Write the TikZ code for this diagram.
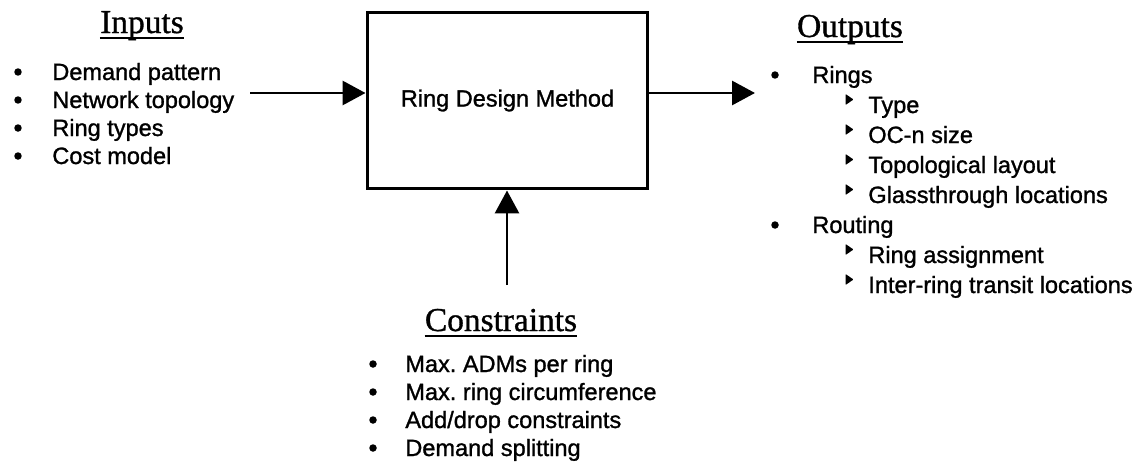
\documentclass[tikz,border=0pt]{standalone}
\usepackage{fontspec}
\usepackage{tikz}
\usetikzlibrary{
    arrows.meta,
    calc
}
\newfontfamily\listsans[FakeBold=1.2]{Liberation Sans}
\newfontfamily\listserif[FakeBold=1]{Liberation Serif}
\frenchspacing
\tikzset{
    flow box/.style={
        draw,
        line width=1.7pt,
        minimum width=5.62cm,
        minimum height=3.54cm,
        inner sep=0pt,
        font=\listsans\fontsize{13.4}{16}\selectfont
    },
    flow arrow/.style={-{Triangle[length=0.46cm, width=0.48cm]}, line width=1.7pt},
    list head/.style={anchor=base, inner sep=0pt, font=\listserif\fontsize{19}{22}\selectfont},
    list rule/.style={line width=1.3pt},
    list item/.style={anchor=base west, inner sep=0pt, font=\listsans\fontsize{13.4}{16}\selectfont}
}

\begin{document}
\begin{tikzpicture}[x=0.02cm, y=-0.02cm]
    \useasboundingbox (0,0) rectangle (1147,470);

    \node[flow box] (method) at (507.5,100.5) {Ring Design Method};

    \node[list head] (inhead) at (142,33) {Inputs};
    \node[list head] (outhead) at (850,37) {Outputs};
    \node[list head] (conhead) at (501,331) {Constraints};
    \foreach \h in {inhead,outhead,conhead}
        \draw[list rule] ([yshift=-3pt]\h.base west) -- ([yshift=-3pt]\h.base east);

    \foreach \y/\txt [count=\i] in {80/Demand pattern, 108/Network topology, 136/Ring types, 164/Cost model} {
        \node[list item] (in\i) at (52,\y) {\txt};
        \fill (18,\y-8) circle (0.075cm);
    }

    \foreach \y/\txt [count=\i] in {83/Rings, 233/Routing} {
        \node[list item] (out\i) at (812,\y) {\txt};
        \fill (775,\y-8) circle (0.075cm);
    }
    \foreach \y/\txt [count=\i] in {113/Type, 143/OC-n size, 173/Topological layout, 203/Glassthrough locations,
                                   263/Ring assignment, 293/Inter-ring transit locations} {
        \node[list item] (sub\i) at (868,\y) {\txt};
        \fill[rounded corners=0.4pt] (845.5,\y-19) -- (853.5,\y-13.5) -- (845.5,\y-8) -- cycle;
    }

    \foreach \y/\txt [count=\i] in {372/Max. ADMs per ring, 400/Max. ring circumference, 428/{Add/drop constraints}, 456/Demand splitting} {
        \node[list item] (con\i) at (405,\y) {\txt};
        \fill (373,\y-8) circle (0.075cm);
    }

    \coordinate (intail) at (250,93);
    \coordinate (outtip) at (755,93);
    \coordinate (contail) at (507,285);
    \draw[flow arrow] (intail) -- (intail -| method.west);
    \draw[flow arrow] (method.east |- outtip) -- (outtip);
    \draw[flow arrow] (contail) -- (contail |- method.south);
\end{tikzpicture}
\end{document}
